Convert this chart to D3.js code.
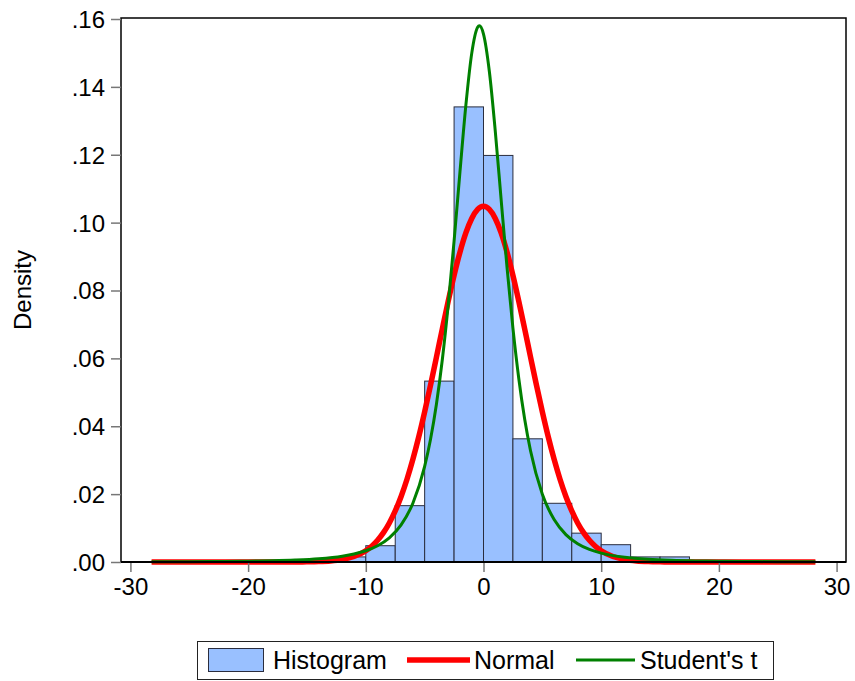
<!DOCTYPE html>
<html><head><meta charset="utf-8">
<script src="https://cdn.jsdelivr.net/npm/d3@7"></script>
<style>
html,body{margin:0;padding:0;background:#fff;}
svg{display:block;font-family:"Liberation Sans",Arial,sans-serif;}
</style></head>
<body><svg id="c" width="855" height="681"></svg>
<script>
// Histogram bins (left edge, width 2.5) and densities
const binStarts = [-12.5, -10, -7.5, -5, -2.5, 0, 2.5, 5, 7.5, 10, 12.5, 15];
const binDensity = [0.0015, 0.0048, 0.0166, 0.0533, 0.1341, 0.1198, 0.0363, 0.0173, 0.0085, 0.0051, 0.0015, 0.0015];
const binWidth = 2.5;

// Normal density curve
const normalX = [-28.2,-18,-16,-15,-14,-13,-12,-11,-10,-9.5,-9,-8.5,-8,-7.5,-7,-6.5,-6,-5.5,-5,-4.5,-4,-3.5,-3,-2.5,-2,-1.5,-1,-0.5,0,0.5,1,1.5,2,2.5,3,3.5,4,4.5,5,5.5,6,6.5,7,7.5,8,8.5,9,9.5,10,11,12,13,14,15,16,18,28.2];
const normalY = [0,0,0.000015,0.000045,0.00012,0.00031,0.00073,0.00161,0.00333,0.00466,0.00641,0.00866,0.01151,0.01505,0.01932,0.02439,0.03026,0.0369,0.04423,0.05211,0.06034,0.06867,0.07682,0.08447,0.09129,0.09697,0.10124,0.1039,0.1048,0.1039,0.10124,0.09697,0.09129,0.08447,0.07682,0.06867,0.06034,0.05211,0.04423,0.0369,0.03026,0.02439,0.01932,0.01505,0.01151,0.00866,0.00641,0.00466,0.00333,0.00161,0.00073,0.00031,0.00012,0.000045,0.000015,0,0];

// Student's t density curve
const tX = [-28.2,-25,-22,-20,-18,-16,-14,-12,-11,-10,-9,-8,-7,-6,-5,-4.5,-4,-3.5,-3,-2.5,-2,-1.5,-1,-0.5,-0.35,0,0.5,1,1.5,2,2.5,3,3.5,4,5,6,7,8,9,10,11,12,14,16,18,20,22,25,28.2];
const tY = [0.000063,0.000101,0.000168,0.000244,0.000368,0.00058,0.000965,0.001716,0.00236,0.00332,0.0048,0.00713,0.01094,0.0173,0.02815,0.03615,0.04648,0.05958,0.0757,0.09455,0.11494,0.13452,0.14987,0.15755,0.158,0.15557,0.14447,0.12699,0.10672,0.08673,0.06889,0.05399,0.04204,0.03269,0.01997,0.01251,0.00808,0.00539,0.0037,0.00261,0.00188,0.00139,0.000802,0.000491,0.000317,0.000213,0.000148,0.000091,0.000057];

const xTicks = [-30,-20,-10,0,10,20,30];
const yTicks = [0,0.02,0.04,0.06,0.08,0.10,0.12,0.14,0.16];
const seriesNames = ["Histogram","Normal","Student's t"];

const L = 121, R = 846, T = 18, B = 562;
const svg = d3.select("#c");
const x = d3.scaleLinear().domain([-30.8, 30.8]).range([L, R]);
const y = d3.scaleLinear().domain([0, 0.16]).range([B, T + 1]);

// bars
svg.append("g").selectAll("rect").data(binStarts).join("rect")
  .attr("x", d => x(d))
  .attr("width", d => x(d + binWidth) - x(d))
  .attr("y", (d, i) => y(binDensity[i]))
  .attr("height", (d, i) => y(0) - y(binDensity[i]))
  .attr("fill", "#99c0ff")
  .attr("stroke", "#2a2d3e")
  .attr("stroke-width", 1);

const line = d3.line().x(d => x(d[0])).y(d => y(d[1])).curve(d3.curveMonotoneX);
svg.append("path").datum(normalX.map((v, i) => [v, normalY[i]]))
  .attr("d", line).attr("fill", "none").attr("stroke", "#ff0000").attr("stroke-width", 5.5);
svg.append("path").datum(tX.map((v, i) => [v, tY[i]]))
  .attr("d", line).attr("fill", "none").attr("stroke", "#008000").attr("stroke-width", 3);

// frame
svg.append("rect").attr("x", L).attr("y", T).attr("width", R - L).attr("height", B - T)
  .attr("fill", "none").attr("stroke", "#000").attr("stroke-width", 1.5);

// axes
const fmtY = d => d3.format(".2f")(d).replace(/^0/, "");
const fmtX = d => String(d);
const yAxis = svg.append("g").attr("transform", `translate(${L},0)`)
  .call(d3.axisLeft(y).tickValues(yTicks).tickFormat(fmtY).tickSize(10).tickPadding(6));
const xAxis = svg.append("g").attr("transform", `translate(0,${B})`)
  .call(d3.axisBottom(x).tickValues(xTicks).tickFormat(fmtX).tickSize(10).tickPadding(6));
[yAxis, xAxis].forEach(g => {
  g.select(".domain").remove();
  g.selectAll(".tick line").attr("stroke", "#777").attr("stroke-width", 1.5);
  g.selectAll(".tick text").attr("fill", "#000").style("font-size", "24px")
    .style("font-family", "'Liberation Sans', Arial, sans-serif");
});
yAxis.selectAll(".tick text").attr("dy", "0.35em");
svg.append("line").attr("x1", L).attr("x2", R).attr("y1", B).attr("y2", B).attr("stroke", "#000").attr("stroke-width", 2);

svg.append("text").attr("transform", "translate(31,290) rotate(-90)")
  .attr("text-anchor", "middle").style("font-size", "24px").text("Density");

// legend
const lg = svg.append("g");
lg.append("rect").attr("x", 197.5).attr("y", 641.5).attr("width", 576).attr("height", 38)
  .attr("fill", "#fff").attr("stroke", "#222").attr("stroke-width", 1);
lg.append("rect").attr("x", 208.5).attr("y", 648.5).attr("width", 55).attr("height", 23)
  .attr("fill", "#99c0ff").attr("stroke", "#2a2d3e");
lg.append("text").attr("x", 273).attr("y", 669).style("font-size", "25px").text(seriesNames[0]);
lg.append("line").attr("x1", 407).attr("x2", 470).attr("y1", 660).attr("y2", 660).attr("stroke", "#ff0000").attr("stroke-width", 5.5);
lg.append("text").attr("x", 474).attr("y", 669).style("font-size", "25px").text(seriesNames[1]);
lg.append("line").attr("x1", 576).attr("x2", 635).attr("y1", 660).attr("y2", 660).attr("stroke", "#008000").attr("stroke-width", 3);
lg.append("text").attr("x", 640).attr("y", 669).style("font-size", "25px").text(seriesNames[2]);
</script></body></html>
